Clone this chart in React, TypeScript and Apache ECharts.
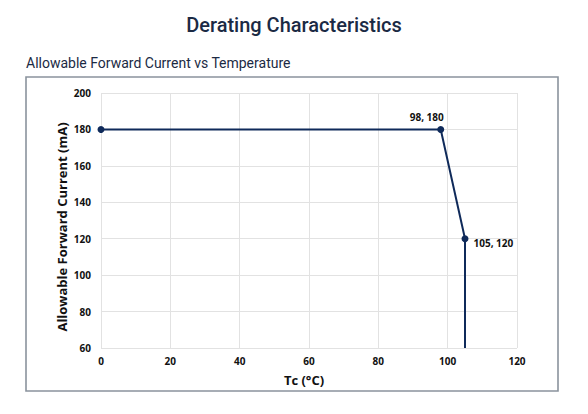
import React, { useEffect, useRef } from "react";
import * as echarts from "echarts";

const title = "Derating Characteristics";
const subtitle = "Allowable Forward Current vs Temperature";
const xName = "Tc (°C)";
const yName = "Allowable Forward Current (mA)";
const tempC = [0, 98, 105, 105];
const currentMA = [180, 180, 120, 60];
const showMarker = [true, true, true, false];
const pointLabels = ["", "98, 180", "105, 120", ""];

export default function App() {
  const ref = useRef<HTMLDivElement>(null);
  useEffect(() => {
    if (!ref.current) return;
    const chart = echarts.init(ref.current, null, { renderer: "svg" });
    const navy = "#0f2a5a";
    const textDark = "#1b2a44";
    const data = tempC.map((x, i) => {
      const item: any = {
        value: [x, currentMA[i]],
        symbolSize: showMarker[i] ? 7 : 0,
      };
      if (pointLabels[i]) {
        item.label = {
          show: true,
          formatter: pointLabels[i],
          position: i === 1 ? "top" : "right",
          offset: i === 1 ? [-14, 1] : [0, 4],
          fontFamily: "Open Sans",
          fontWeight: "bold",
          fontSize: 10,
          color: "#111",
        };
      }
      return item;
    });
    chart.setOption({
      animation: false,
      backgroundColor: "#ffffff",
      title: [
        {
          text: title,
          left: "center",
          top: 10,
          textStyle: { fontFamily: "Roboto", fontWeight: 500, fontSize: 20, color: textDark },
        },
        {
          text: subtitle,
          left: 21,
          top: 51,
          textStyle: { fontFamily: "Roboto", fontWeight: "normal", fontSize: 14, color: textDark },
        },
      ],
      graphic: [
        {
          type: "rect",
          z: -10,
          shape: { x: 26, y: 77, width: 532, height: 314 },
          style: { fill: "#ffffff", stroke: "#8a939d", lineWidth: 1.6 },
        },
        {
          type: "text",
          x: 62,
          y: 227,
          rotation: Math.PI / 2,
          style: {
            text: yName,
            fontFamily: "Open Sans",
            fontWeight: "bold",
            fontSize: 13,
            fill: "#111",
            align: "center",
            verticalAlign: "middle",
          },
        },
        {
          type: "text",
          x: 304,
          y: 380,
          style: {
            text: xName,
            fontFamily: "Open Sans",
            fontWeight: "bold",
            fontSize: 13,
            fill: "#111",
            align: "center",
            verticalAlign: "middle",
          },
        },
      ],
      grid: { left: 101, right: 71, top: 93, bottom: 66, containLabel: false },
      xAxis: {
        type: "value",
        min: 0,
        max: 120,
        interval: 20,
        axisLine: { show: false },
        axisTick: { show: false },
        splitLine: { show: true, lineStyle: { color: "#e2e2e2", width: 1 } },
        axisLabel: {
          margin: 8,
          fontFamily: "Open Sans",
          fontWeight: "bold",
          fontSize: 10,
          color: "#111",
        },
      },
      yAxis: {
        type: "value",
        min: 60,
        max: 200,
        interval: 20,
        axisLine: { show: false },
        axisTick: { show: false },
        splitLine: { show: true, lineStyle: { color: "#e2e2e2", width: 1 } },
        axisLabel: {
          margin: 10,
          fontFamily: "Open Sans",
          fontWeight: "bold",
          fontSize: 10,
          color: "#111",
        },
      },
      series: [
        {
          type: "line",
          data,
          symbol: "circle",
          lineStyle: { color: navy, width: 2 },
          itemStyle: { color: navy },
        },
      ],
    });
    return () => chart.dispose();
  }, []);
  return (
    <div
      ref={ref}
      style={{ position: "fixed", left: 0, top: 0, width: 588, height: 414 }}
    />
  );
}
